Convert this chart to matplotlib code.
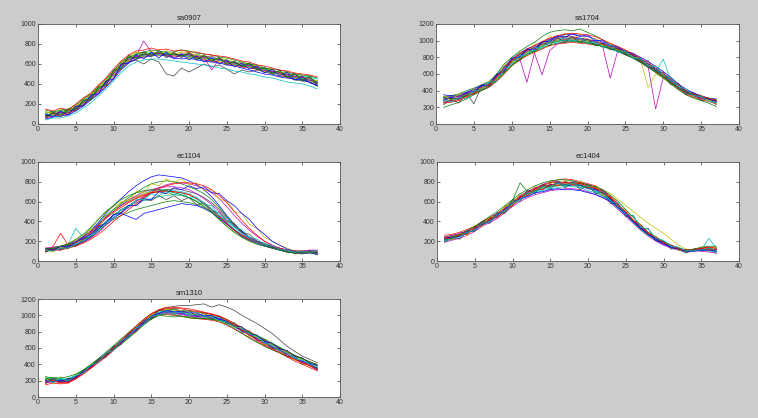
import matplotlib
matplotlib.use("Agg")
import matplotlib.pyplot as plt
from cycler import cycler

days = list(range(1, 38))
titles = ["sa0907", "sa1704", "ec1104", "ec1404", "sm1310"]
ylims = [1000, 1200, 1000, 1000, 1200]

sa0907 = [
    [80,95,110,115,150,200,260,330,400,490,580,640,670,700,710,705,700,690,700,690,680,670,660,645,630,610,600,590,570,550,530,515,500,480,470,455,430],
    [120,110,130,140,170,220,290,360,430,520,610,660,690,720,700,690,710,700,690,670,660,650,650,640,615,590,580,570,545,530,510,500,480,450,440,430,400],
    [60,80,90,100,140,190,250,310,380,460,560,620,650,680,690,700,680,670,680,690,660,640,630,620,600,590,570,560,550,540,520,500,470,470,460,440,410],
    [100,130,120,130,170,230,280,350,420,510,600,650,700,690,720,710,700,710,680,670,700,680,670,650,640,620,610,600,580,550,540,520,510,490,480,470,450],
    [90,100,120,110,160,210,270,330,400,500,590,650,680,830,720,700,690,700,680,700,690,670,680,640,620,610,600,580,560,540,530,510,490,470,450,440,420],
    [110,120,100,130,180,240,300,370,440,520,600,680,720,710,700,720,710,700,720,710,690,680,640,660,640,620,600,610,570,560,540,520,500,490,470,450,430],
    [70,90,100,110,150,200,260,330,420,480,560,620,640,600,650,620,500,480,560,520,560,600,570,590,550,500,540,520,540,520,500,480,470,440,430,420,380],
    [50,70,80,90,130,180,240,300,370,450,540,610,650,670,680,690,680,660,650,660,640,630,620,610,590,580,560,540,520,500,490,470,460,450,440,420,380],
    [140,120,140,150,190,250,300,380,450,530,620,670,700,720,740,730,720,720,740,730,710,700,690,670,660,640,620,600,590,560,550,540,520,500,490,480,460],
    [90,100,110,120,160,210,270,340,410,500,590,640,670,690,700,700,700,690,690,680,670,660,650,640,620,600,590,580,560,540,520,510,490,470,460,450,420],
    [100,85,105,125,155,205,265,345,405,495,575,645,665,685,705,695,705,685,695,685,645,655,655,635,625,595,595,575,555,545,515,505,485,465,455,445,425],
    [75,110,115,105,165,215,275,335,415,505,595,635,675,695,690,710,690,680,700,700,675,665,540,650,625,615,585,585,565,535,525,505,495,475,465,435,415],
    [130,90,150,100,190,200,300,330,450,480,620,630,720,660,730,680,740,680,720,650,700,640,690,610,650,580,620,560,600,520,560,490,530,450,490,420,440],
    [60,120,70,140,130,240,240,370,380,540,550,690,640,720,670,740,660,720,660,720,640,690,620,670,590,630,570,610,540,570,500,540,460,510,430,480,380],
    [100,70,130,90,180,180,290,300,430,450,600,610,690,650,720,660,720,650,700,640,680,620,660,600,640,570,610,550,580,510,550,480,520,440,480,410,390],
    [80,110,90,150,150,230,250,360,390,530,560,670,660,700,690,720,690,700,680,710,650,680,630,660,600,620,580,600,550,560,510,530,470,500,440,470,400],
    [150,130,160,140,200,260,310,390,460,550,630,690,730,740,760,740,750,730,740,720,720,700,690,680,670,650,630,620,590,580,560,540,530,510,500,490,470],
    [40,60,60,80,110,160,210,280,350,430,510,580,620,640,650,650,640,630,620,610,600,590,580,560,550,530,520,500,490,470,460,440,420,410,400,380,350],
]

sa1704 = [
    [290,310,340,360,400,440,480,550,650,750,820,860,900,960,980,1000,1010,1030,1020,1000,1000,960,930,880,860,800,750,690,640,570,500,430,380,330,300,290,260],
    [330,340,360,400,430,470,510,600,720,800,870,930,980,1050,1100,1120,1130,1120,1140,1100,1060,1010,960,920,880,830,780,720,660,600,520,450,390,360,320,300,290],
    [250,260,280,320,360,400,440,510,600,700,760,820,860,900,940,960,970,980,970,960,950,930,900,870,830,790,740,680,620,560,490,420,360,320,290,270,240],
    [300,320,340,360,410,450,490,570,670,760,820,880,920,960,1000,1020,1030,1020,1010,990,970,940,910,880,840,790,740,680,620,780,520,450,390,350,320,300,280],
    [260,270,300,340,390,430,470,550,650,740,800,500,850,590,880,960,990,1000,990,980,960,930,550,880,840,800,750,690,180,560,500,440,380,340,310,290,270],
    [280,290,310,350,390,420,470,540,640,730,790,850,900,940,980,1000,1010,1010,1000,990,970,950,930,900,860,820,770,440,600,560,490,430,370,330,300,280,250],
    [320,330,350,380,240,450,490,570,680,770,830,890,920,970,1010,1040,1050,1040,1030,1010,990,960,930,900,860,820,770,710,650,590,520,450,390,350,320,300,280],
    [350,340,330,380,420,460,500,580,690,780,850,900,940,980,1020,1050,1070,1080,1060,1050,1020,980,940,910,870,830,780,720,660,600,530,460,400,370,340,310,300],
    [200,230,260,300,350,400,450,530,620,710,780,840,880,930,970,990,1000,1000,990,980,960,930,900,870,830,790,740,680,620,550,480,410,350,310,280,250,210],
    [310,300,320,370,400,440,480,560,660,750,810,870,910,950,990,1010,1020,1020,1010,1000,980,950,920,890,850,810,760,700,640,580,510,440,380,340,310,290,270],
    [270,280,300,350,380,430,490,560,680,770,800,860,880,940,970,1010,1000,1010,990,1000,970,940,900,870,840,810,770,710,650,590,520,450,380,340,320,290,260],
    [300,320,330,370,410,440,470,550,640,740,810,880,920,950,1000,1030,1040,1050,1030,1020,990,970,940,910,870,820,770,710,640,570,500,430,370,340,310,300,280],
    [340,290,360,330,420,430,510,540,710,730,860,850,960,940,1060,1000,1090,1020,1080,1000,1030,940,960,880,880,800,800,700,700,590,560,460,420,340,350,280,300],
    [230,300,250,360,360,470,450,600,620,780,760,900,860,980,940,1040,980,1050,980,1020,940,970,890,910,830,840,740,760,620,620,470,490,350,380,280,310,230],
    [280,320,300,380,390,460,460,590,640,790,800,900,890,990,990,1060,1040,1080,1050,1070,1000,1000,940,930,870,850,800,750,690,630,560,480,420,370,330,300,270],
    [320,300,310,340,370,410,450,520,610,700,770,830,870,910,950,970,980,990,980,970,950,930,910,880,850,800,760,700,640,570,500,430,380,350,330,310,290],
    [260,280,290,330,370,420,470,560,670,770,840,900,940,990,1030,1060,1080,1090,1080,1070,1050,1010,970,930,890,840,790,730,670,610,540,470,400,360,330,310,280],
    [300,260,320,300,400,410,500,520,660,720,820,830,920,910,1000,970,1040,990,1030,970,990,920,940,860,870,790,790,700,690,590,560,450,420,340,330,270,260],
]

ec1104 = [
    [120,130,140,170,200,250,310,390,480,560,630,700,760,810,850,870,860,850,840,810,770,720,650,560,460,370,300,240,200,170,140,120,100,90,90,100,90],
    [100,110,120,130,160,190,240,300,370,420,460,490,520,540,560,580,600,610,600,590,570,540,500,440,380,320,260,220,190,160,140,120,100,90,80,80,70],
    [90,150,280,160,190,230,290,360,440,500,560,600,640,670,690,700,710,700,690,670,630,580,520,450,380,310,260,220,190,160,140,120,100,90,90,100,90],
    [120,120,140,170,330,240,300,380,460,520,570,610,650,680,710,720,720,710,700,680,640,590,530,460,390,320,270,230,200,170,150,130,110,100,100,110,100],
    [100,110,120,140,160,190,230,290,360,430,490,540,600,650,700,740,770,790,790,780,760,730,690,630,550,460,380,310,250,200,160,130,110,100,100,110,110],
    [130,130,150,180,210,260,330,420,500,550,590,620,650,680,700,690,680,670,660,640,600,550,490,420,350,290,240,200,170,150,130,110,90,80,80,90,80],
    [110,120,120,140,160,200,250,320,400,460,520,560,610,640,680,710,720,730,720,700,680,640,590,520,440,360,290,230,190,160,140,120,100,90,90,90,80],
    [100,110,130,150,170,200,250,320,390,440,480,450,420,480,500,520,540,560,580,570,560,530,490,430,370,310,250,210,180,150,130,110,90,80,80,80,70],
    [120,130,140,160,190,240,300,370,450,520,580,640,690,740,780,800,810,800,780,750,720,680,620,540,450,370,300,240,200,170,140,120,100,90,90,100,100],
    [110,120,130,150,180,220,280,350,430,490,540,590,630,660,690,700,700,700,690,670,630,580,520,450,380,310,260,220,190,160,140,120,100,90,90,95,90],
    [100,110,120,140,170,210,270,330,400,460,510,560,590,610,630,650,660,670,660,640,610,570,520,460,400,340,280,230,190,160,140,120,100,90,90,90,80],
    [130,140,150,170,200,240,300,370,440,500,560,620,660,700,720,740,750,750,740,720,680,630,570,500,420,350,290,240,200,170,150,130,110,100,100,100,100],
    [110,90,140,120,200,210,320,330,470,480,600,610,700,690,780,760,830,790,830,770,790,710,720,620,610,500,480,370,330,240,200,160,130,100,100,80,90],
    [90,120,110,160,150,220,250,340,380,470,490,560,560,620,610,660,620,660,610,640,570,580,500,490,400,380,290,270,200,180,140,120,90,80,70,90,60],
    [130,110,150,140,190,230,270,350,380,470,480,560,560,630,620,700,680,740,720,760,730,750,690,680,610,560,480,420,330,270,200,160,120,100,90,100,80],
    [120,130,150,170,220,270,340,420,500,560,620,660,690,710,720,720,710,690,670,640,600,550,490,420,350,290,240,200,170,150,130,110,90,80,90,90,90],
    [100,110,110,130,150,180,220,270,330,400,460,520,580,640,690,730,760,780,790,790,780,760,720,660,590,500,410,330,260,200,160,130,110,100,100,100,90],
    [110,100,130,130,170,200,260,300,390,430,520,540,620,620,680,660,700,670,690,640,640,570,560,460,440,340,320,240,220,170,160,120,110,90,100,90,100],
]

ec1404 = [
    [220,240,260,290,330,380,420,460,520,580,640,680,720,740,770,780,780,780,770,740,720,680,620,550,480,400,330,270,220,180,150,120,100,110,120,120,110],
    [240,260,270,300,340,390,430,470,540,610,790,700,730,760,790,800,790,790,780,760,740,700,640,570,490,410,340,280,230,190,150,120,100,110,120,120,100],
    [260,270,290,320,350,400,440,480,540,600,660,700,740,770,800,820,830,820,800,780,760,710,650,570,490,410,340,280,230,190,150,120,100,110,130,140,140],
    [200,220,250,280,320,370,410,450,510,570,620,660,700,720,750,760,760,770,760,740,710,670,610,540,470,390,320,260,210,170,140,110,90,100,110,230,130],
    [190,210,230,260,300,350,390,430,490,550,600,640,670,690,710,720,730,730,720,700,670,640,590,520,450,380,310,250,200,160,130,110,90,100,100,90,80],
    [230,250,270,300,340,390,440,480,540,600,650,690,720,740,760,770,780,780,780,770,750,720,680,620,560,500,440,380,330,280,220,160,120,110,120,120,110],
    [210,230,250,280,320,370,410,450,500,560,630,670,710,730,760,790,800,790,790,750,730,690,630,560,480,410,340,270,220,180,150,120,100,120,130,130,120],
    [250,230,280,300,340,380,420,470,530,590,640,690,730,750,770,780,770,760,760,730,720,690,620,560,490,400,330,270,210,170,140,120,110,110,120,110,100],
    [220,250,260,280,330,370,420,460,520,580,650,680,710,740,750,760,770,780,760,740,700,660,610,540,470,390,320,260,220,180,150,120,90,110,110,110,120],
    [230,240,270,300,330,380,430,470,520,570,640,690,730,760,790,800,790,790,780,760,730,700,640,560,480,400,330,270,230,190,160,130,110,120,130,140,130],
    [210,220,250,290,320,360,400,450,510,570,620,660,690,710,730,740,750,750,740,710,690,650,600,530,470,390,320,260,220,180,150,120,100,100,110,100,90],
    [240,260,280,300,340,400,440,480,530,590,660,700,740,770,800,800,790,800,790,770,750,710,650,580,490,410,340,280,230,190,160,130,110,110,120,130,120],
    [250,210,280,260,360,350,450,440,560,560,680,660,760,730,810,760,820,760,810,740,760,660,660,550,520,410,370,280,250,180,160,110,110,100,140,110,140],
    [190,240,220,300,300,400,380,490,480,620,600,720,680,780,720,810,740,800,720,770,680,700,580,580,450,460,320,330,200,200,120,130,80,120,100,130,80],
    [230,240,250,290,310,370,400,460,520,590,630,650,690,700,720,730,720,720,710,690,670,640,600,540,470,400,330,270,220,180,140,120,100,100,110,110,100],
    [210,230,270,310,350,400,450,500,560,620,680,720,760,790,810,820,820,810,790,770,750,720,660,600,520,440,360,290,240,200,160,130,110,120,140,150,150],
    [240,220,260,270,330,360,420,440,520,560,650,660,730,720,780,760,800,770,790,740,740,680,640,560,500,410,360,280,240,180,160,120,110,110,130,110,120],
    [200,230,240,290,310,380,400,470,510,590,620,690,700,750,740,790,760,790,740,760,690,700,600,580,470,460,340,320,230,210,150,140,100,110,110,130,100],
]

sm1310 = [
    [200,200,190,200,250,310,380,450,520,600,680,760,840,920,990,1030,1050,1040,1030,1010,1000,990,980,960,920,870,820,770,720,670,620,580,530,480,440,400,360],
    [250,230,220,210,270,330,400,470,550,630,710,790,870,950,1020,1060,1080,1070,1060,1050,1040,1030,1010,990,950,900,850,790,740,690,640,600,550,500,470,430,390],
    [150,170,160,170,220,280,350,420,490,570,650,730,810,890,960,1000,1010,1000,990,970,960,950,940,920,880,830,780,730,680,630,580,540,490,440,400,360,320],
    [230,190,240,190,240,300,370,440,510,590,670,750,830,910,980,1040,1060,1050,1040,1020,1010,1000,990,970,930,880,820,750,700,650,600,560,510,470,430,390,350],
    [180,210,200,180,230,290,360,430,500,580,660,740,820,900,970,1010,1030,1020,1010,990,980,970,960,950,910,860,810,760,710,660,610,570,520,470,440,400,370],
    [220,200,180,200,260,320,390,460,530,610,690,770,850,930,1000,1050,1070,1060,1050,1030,1020,1010,1000,980,940,890,840,780,730,680,640,600,550,500,460,420,380],
    [210,220,200,210,260,320,390,460,530,610,690,770,850,930,1000,1060,1090,1110,1120,1120,1130,1140,1100,1130,1100,1060,1000,950,900,840,780,700,620,560,500,460,420],
    [190,180,200,220,250,310,380,440,520,590,670,750,830,910,980,1020,1040,1030,1020,1000,990,980,970,950,910,860,810,760,720,670,610,570,530,480,440,400,350],
    [210,220,190,200,250,310,370,450,520,600,680,760,840,910,970,1000,990,980,990,980,970,960,950,930,890,840,780,720,670,620,580,540,500,460,420,380,340],
    [200,210,180,190,240,300,380,450,530,610,690,770,850,930,1010,1060,1080,1090,1080,1060,1050,1030,1010,990,950,900,850,800,750,700,650,600,550,510,470,430,390],
    [240,220,210,230,260,320,390,460,530,610,690,760,840,920,990,1040,1060,1050,1040,1020,1010,1000,990,970,930,880,830,780,720,670,620,580,530,480,450,420,380],
    [170,190,180,190,240,300,370,440,510,590,670,750,830,910,980,1020,1040,1040,1020,1000,990,990,980,960,920,860,820,770,720,680,630,580,530,470,430,390,340],
    [240,160,250,170,270,290,400,430,540,580,700,740,860,890,1020,1010,1080,1030,1060,1000,1020,970,990,930,940,850,850,740,740,640,640,550,550,450,470,380,380],
    [160,230,180,230,220,330,350,470,490,620,640,780,800,940,950,1070,1040,1090,1030,1060,990,1030,960,990,900,910,790,810,690,700,590,600,490,510,400,420,330],
    [200,190,210,180,250,300,380,440,530,590,690,740,850,900,990,1020,1060,1040,1050,1030,1030,990,1000,950,930,870,860,770,760,680,660,590,570,500,480,410,390],
    [220,240,230,250,280,330,390,450,510,580,650,720,800,880,950,1000,1020,1010,990,970,960,960,950,940,910,870,830,790,750,710,660,610,560,510,470,430,400],
    [180,200,170,180,230,290,360,440,520,600,690,780,870,950,1020,1070,1100,1100,1090,1080,1060,1040,1020,990,940,880,820,760,700,640,590,550,500,460,420,380,330],
    [210,180,230,200,260,290,390,420,540,570,690,730,850,880,990,1000,1050,1020,1040,1000,1010,980,980,940,920,860,840,770,740,670,640,570,540,470,450,410,360],
]

datasets = [sa0907, sa1704, ec1104, ec1404, sm1310]

matlab_colors = ["#0000ff", "#008000", "#ff0000", "#00bfbf", "#bf00bf", "#bfbf00", "#404040"]
plt.rcParams["font.family"] = ["Liberation Sans", "DejaVu Sans"]

fig = plt.figure(figsize=(7.58, 4.18), dpi=100, facecolor="#cccccc")

W, H = 758.0, 418.0
boxes = [
    (38, 24, 340, 124),
    (436, 24, 739, 124),
    (38, 162, 340, 261),
    (437, 162, 739, 261),
    (38, 299, 340, 397),
]

for (x0, y0, x1, y1), title, data, ymax in zip(boxes, titles, datasets, ylims):
    ax = fig.add_axes([x0 / W, 1 - y1 / H, (x1 - x0) / W, (y1 - y0) / H])
    ax.set_facecolor("white")
    ax.set_prop_cycle(cycler(color=matlab_colors))
    for series in data:
        ax.plot(days, series, lw=0.5)
    ax.set_xlim(0, 40)
    ax.set_ylim(0, ymax)
    ax.set_xticks(range(0, 41, 5))
    ax.set_yticks(range(0, ymax + 1, 200))
    ax.tick_params(direction="in", top=True, right=True, labelsize=5,
                   length=2.5, width=0.5, colors="#333333", pad=1.5)
    for s in ax.spines.values():
        s.set_linewidth(0.6)
        s.set_color("#555555")
    ax.set_title(title, fontsize=5.5, pad=3, color="#222222")

fig.savefig("out.png", dpi=100, facecolor=fig.get_facecolor())
